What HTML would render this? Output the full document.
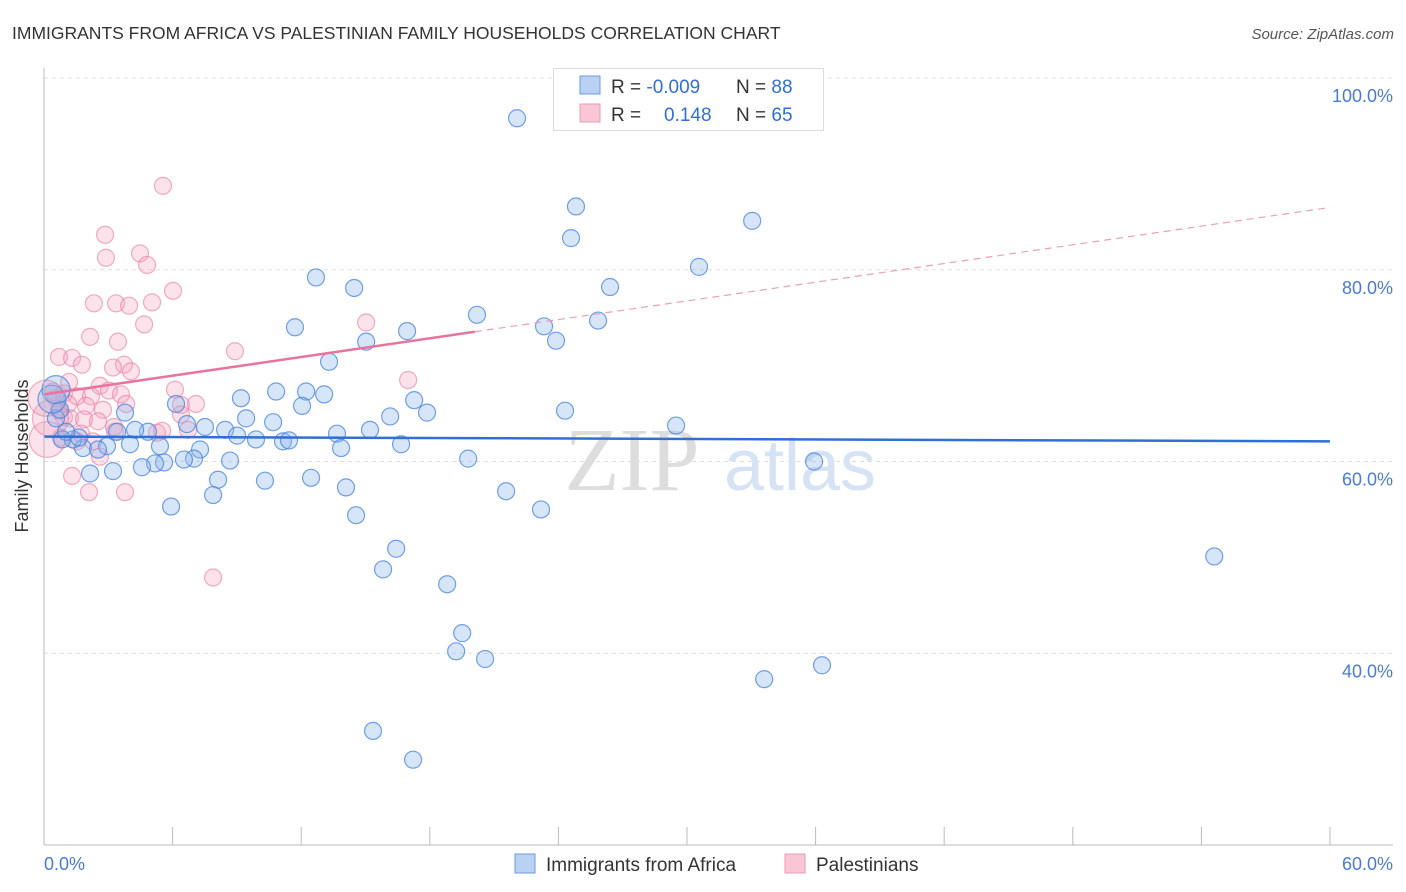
<!DOCTYPE html>
<html><head><meta charset="utf-8"><style>
body{margin:0;background:#fff;font-family:"Liberation Sans",sans-serif;}
svg{display:block}
</style></head><body>
<svg id="chart" width="1406" height="892" viewBox="0 0 1406 892">
<text x="12" y="39" font-size="17.5" fill="#333">IMMIGRANTS FROM AFRICA VS PALESTINIAN FAMILY HOUSEHOLDS CORRELATION CHART</text>
<text x="1394" y="39" font-size="15" fill="#555" font-style="italic" text-anchor="end">Source: ZipAtlas.com</text>
<g id="grid"></g>
<g><text x="632" y="490" font-size="90" fill="#ddd" font-family="Liberation Serif,serif" text-anchor="middle">ZIP</text><text x="800" y="490" font-size="72" fill="#d6e3f5" text-anchor="middle">atlas</text></g>
<g id="pts-pink"></g>
<g id="pts-blue"></g>
<g id="lines"></g>
<g id="axes"></g>
<text x="28" y="456" font-size="18" fill="#333" text-anchor="middle" transform="rotate(-90 28 456)">Family Households</text>
<g>
<rect x="553.5" y="68.5" width="270" height="62" fill="#fff" stroke="#ddd"/>
<rect x="580" y="76" width="20" height="18" fill="#b9d1f3" stroke="#6c9be0"/>
<rect x="580" y="104" width="20" height="18" fill="#f9c6d6" stroke="#ec98b4"/>
<text x="611" y="93" font-size="19" fill="#333">R = <tspan fill="#2f6fd6">-0.009</tspan></text>
<text x="736" y="93" font-size="19" fill="#333">N = <tspan fill="#2f6fd6">88</tspan></text>
<text x="611" y="121" font-size="19" fill="#333">R = </text>
<text x="664" y="121" font-size="19" fill="#2f6fd6">0.148</text>
<text x="736" y="121" font-size="19" fill="#333">N = <tspan fill="#2f6fd6">65</tspan></text>
</g>
<g>
<rect x="515" y="854" width="20" height="19" fill="#b9d1f3" stroke="#6c9be0"/>
<text x="546" y="871" font-size="19" fill="#333">Immigrants from Africa</text>
<rect x="785" y="854" width="20" height="19" fill="#f9c6d6" stroke="#ec98b4"/>
<text x="816" y="871" font-size="19" fill="#333">Palestinians</text>
</g>
</svg>
<script>
const xTicks=[0,6,12,18,24,30,36,42,48,54,60];
const yTicks=[40,60,80,100];
const yTickLabels=["40.0%","60.0%","80.0%","100.0%"];
const blueX=[22.07,24.82,24.59,33.04,30.56,12.69,14.47,26.41,11.71,16.94,20.2,23.33,25.85,23.89,15.03,13.3,10.83,12.23,13.07,9.19,12.04,17.27,17.87,16.15,24.31,29.49,6.16,9.43,10.69,3.78,7.51,8.45,9.01,6.67,4.85,4.25,3.41,13.67,15.21,9.89,11.15,11.43,13.86,16.66,5.41,4.01,2.94,7.28,8.68,7.0,6.53,5.6,5.18,4.57,3.22,2.15,1.82,2.52,1.35,1.63,0.84,1.03,0.56,0.75,0.37,0.56,19.79,35.93,12.46,10.31,8.12,7.89,14.09,21.56,5.93,23.19,14.56,16.43,15.82,18.81,54.6,19.51,19.23,20.58,36.3,33.6,15.35,17.22];
const blueY=[95.8,86.6,83.3,85.1,80.3,79.2,78.1,78.2,74.0,73.6,75.3,74.1,74.7,72.6,72.5,70.4,67.3,67.3,67.0,66.6,65.8,66.4,65.1,64.7,65.3,63.75,66.0,64.5,64.1,65.1,63.6,63.3,62.7,63.9,63.1,63.3,63.1,62.9,63.3,62.3,62.1,62.2,61.4,61.8,61.6,61.8,61.6,61.25,60.1,60.3,60.2,59.9,59.8,59.4,59.0,58.75,61.4,61.25,62.3,62.5,62.3,63.1,64.5,65.4,66.5,67.5,60.3,60.0,58.3,58.0,58.1,56.5,57.3,56.9,55.3,55.0,54.4,50.9,48.75,47.2,50.1,42.1,40.2,39.4,38.75,37.3,31.9,28.9];
const pinkX=[5.55,2.85,2.89,4.48,4.81,6.02,2.33,3.36,3.97,5.04,4.67,15.03,2.15,3.45,8.91,0.7,1.31,1.77,3.73,3.22,4.06,1.17,2.61,3.03,3.59,6.11,0.93,1.54,2.19,0.42,0.56,1.12,1.96,2.75,3.83,6.39,7.09,16.99,0.7,0.93,1.21,1.87,2.52,3.27,6.39,6.72,5.27,5.51,3.31,1.73,0.79,1.54,2.29,2.61,1.31,2.1,3.78,7.89,0.15,0.3,0.1];
const pinkY=[88.75,83.65,81.25,81.7,80.5,77.8,76.5,76.5,76.25,76.6,74.3,74.5,73.0,72.5,71.5,70.9,70.8,70.1,70.1,69.8,69.4,68.3,67.9,67.4,67.0,67.5,67.1,66.8,66.8,67.3,66.6,66.0,65.8,65.4,66.0,65.9,66.0,68.5,65.3,64.6,64.5,64.4,64.2,63.6,64.9,63.3,63.0,63.2,63.1,62.9,62.5,62.1,62.1,60.5,58.5,56.8,56.8,47.9,62.3,64.5,66.6];
const blueTrend=[62.6,62.1]; // value at x=0 and x=60
const pinkTrend=[67.0,86.5];
const pinkSolidEnd=20.1;
const X0=44,X1=1330,Y0=845,Ytop=78;
const sx=v=>X0+(v/60)*(X1-X0);
const sy=v=>Y0-(v-20)/80*(Y0-Ytop);
const NS="http://www.w3.org/2000/svg";
function mk(t,a,p){const e=document.createElementNS(NS,t);for(const k in a)e.setAttribute(k,a[k]);p.appendChild(e);return e;}
const grid=document.getElementById('grid');
yTicks.forEach((t,i)=>{
const l=mk('line',{x1:X0,x2:1393,y1:sy(t),y2:sy(t),stroke:'#ddd','stroke-dasharray':'4,4'},grid);


const tx=mk('text',{x:1393,y:sy(t)+24,'font-size':18,fill:'#4a7bd0','text-anchor':'end'},grid);
tx.textContent=yTickLabels[i];


});
const axes=document.getElementById('axes');
mk('line',{x1:X0,x2:X0,y1:68,y2:Y0,stroke:'#bbb'},axes);
mk('line',{x1:X0,x2:1393,y1:Y0,y2:Y0,stroke:'#bbb'},axes);
xTicks.forEach(t=>{const l=mk('line',{x1:sx(t),x2:sx(t),y1:827,y2:Y0,stroke:'#bbb'},axes);

});
let t1=mk('text',{x:44,y:870,'font-size':18,fill:'#4a7bd0'},axes);t1.textContent='0.0%';


let t2=mk('text',{x:1393,y:870,'font-size':18,fill:'#4a7bd0','text-anchor':'end'},axes);t2.textContent='60.0%';


const pp=document.getElementById('pts-pink');
pinkX.forEach((x,i)=>{const big=i>=58;const c=mk('circle',{cx:sx(x),cy:sy(pinkY[i]),r:big?18:8.5,fill:'rgba(244,160,190,0.3)',stroke:'rgba(232,120,160,0.6)','stroke-width':1.2},pp);

});
const bp=document.getElementById('pts-blue');
blueX.forEach((x,i)=>{const big=i===64||i===65;const c=mk('circle',{cx:sx(x),cy:sy(blueY[i]),r:big?14:8.5,fill:'rgba(140,180,235,0.35)',stroke:'rgba(70,130,220,0.75)','stroke-width':1.2},bp);

});
const ln=document.getElementById('lines');
const bl=mk('line',{x1:sx(0),y1:sy(blueTrend[0]),x2:sx(60),y2:sy(blueTrend[1]),stroke:'#2f6fd6','stroke-width':2.5},ln);


const pAt=x=>pinkTrend[0]+(pinkTrend[1]-pinkTrend[0])*x/60;
const pl=mk('line',{x1:sx(0),y1:sy(pAt(0)),x2:sx(pinkSolidEnd),y2:sy(pAt(pinkSolidEnd)),stroke:'#e8739c','stroke-width':2.5},ln);


const pd=mk('line',{x1:sx(pinkSolidEnd),y1:sy(pAt(pinkSolidEnd)),x2:sx(60),y2:sy(pAt(60)),stroke:'#eaa0bb','stroke-width':1.2,'stroke-dasharray':'7,5'},ln);


</script>
</body></html>
